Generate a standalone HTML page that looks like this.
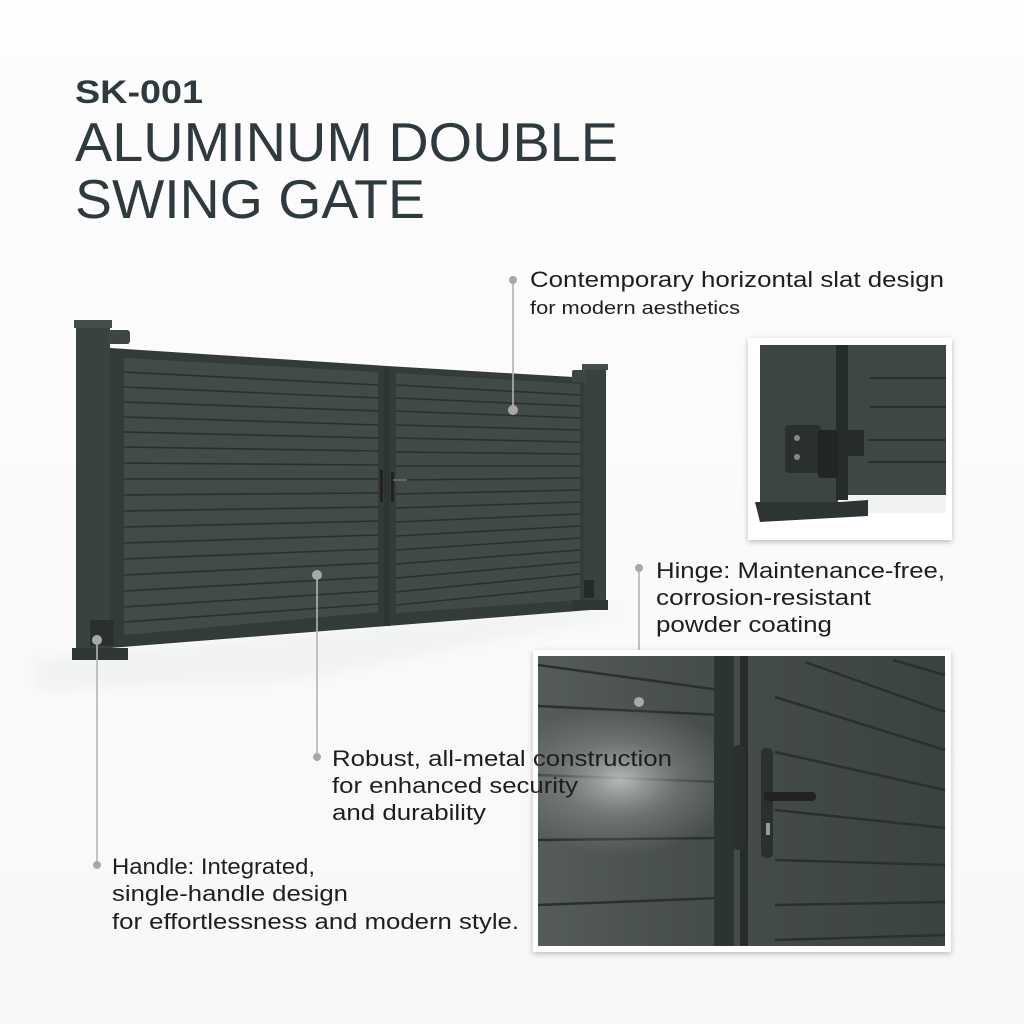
<!DOCTYPE html>
<html><head><meta charset="utf-8"><style>
html,body{margin:0;padding:0;background:#fff;width:1024px;height:1024px;overflow:hidden}
svg{display:block}
text{font-family:"Liberation Sans",sans-serif}
</style></head><body>
<svg width="1024" height="1024" viewBox="0 0 1024 1024" xmlns="http://www.w3.org/2000/svg">
<defs>
<linearGradient id="bg" x1="0" y1="0" x2="0" y2="1"><stop offset="0" stop-color="#fdfdfd"/><stop offset="1" stop-color="#f8f8f8"/></linearGradient>
<linearGradient id="door" x1="0" y1="0" x2="1" y2="0"><stop offset="0" stop-color="#555c5a"/><stop offset="0.35" stop-color="#474e4d"/><stop offset="1" stop-color="#3b4242"/></linearGradient>
<radialGradient id="glow" cx="0.5" cy="0.5" r="0.5"><stop offset="0" stop-color="#d8dad9" stop-opacity="0.75"/><stop offset="0.5" stop-color="#b8bcba" stop-opacity="0.3"/><stop offset="1" stop-color="#b8bcba" stop-opacity="0"/></radialGradient>
<clipPath id="dc"><rect x="538" y="656" width="407" height="290"/></clipPath>
<filter id="sh" x="-10%" y="-10%" width="120%" height="120%"><feDropShadow dx="0" dy="2" stdDeviation="3" flood-opacity="0.25"/></filter>
<filter id="bl"><feGaussianBlur stdDeviation="8"/></filter>
</defs>
<rect width="1024" height="1024" fill="url(#bg)"/>
<polygon points="30,660 130,650 600,606 630,612 300,680 40,690" fill="#f1f2f2" filter="url(#bl)"/>

<text x="75" y="103" font-size="32" font-weight="bold" fill="#2f3a3e" textLength="128" lengthAdjust="spacingAndGlyphs">SK-001</text>
<text x="75" y="161" font-size="55" fill="#2f3a3e" textLength="543" lengthAdjust="spacingAndGlyphs">ALUMINUM DOUBLE</text>
<text x="75" y="218" font-size="55" fill="#2f3a3e" textLength="350" lengthAdjust="spacingAndGlyphs">SWING GATE</text>

<g>
<rect x="76" y="324" width="34" height="336" fill="#3a4141"/>
<rect x="74" y="320" width="38" height="8" fill="#454c4c"/>
<rect x="108" y="330" width="22" height="14" rx="3" fill="#3e4545"/>
<rect x="72" y="648" width="56" height="12" fill="#303636"/>
<polygon points="110,348 387,366 387,626 110,648" fill="#333a3a"/>
<polygon points="387,366 590,378 590,610 387,626" fill="#343b3b"/>
<polygon points="124,358 378,372 378,612 124,635" fill="#424a4a"/>
<polygon points="396,373 580,384 580,600 396,613" fill="#414949"/>
<g stroke="#2a3030" stroke-width="1.6">
<line x1="124" y1="372" x2="378" y2="385"/><line x1="124" y1="387" x2="378" y2="398"/>
<line x1="124" y1="402" x2="378" y2="411"/><line x1="124" y1="417" x2="378" y2="425"/>
<line x1="124" y1="432" x2="378" y2="438"/><line x1="124" y1="447" x2="378" y2="451"/>
<line x1="124" y1="463" x2="378" y2="465"/><line x1="124" y1="479" x2="378" y2="479"/>
<line x1="124" y1="495" x2="378" y2="493"/><line x1="124" y1="511" x2="378" y2="507"/>
<line x1="124" y1="527" x2="378" y2="521"/><line x1="124" y1="543" x2="378" y2="535"/>
<line x1="124" y1="559" x2="378" y2="549"/><line x1="124" y1="575" x2="378" y2="563"/>
<line x1="124" y1="591" x2="378" y2="577"/><line x1="124" y1="607" x2="378" y2="591"/>
<line x1="124" y1="622" x2="378" y2="604"/>
<line x1="396" y1="385" x2="580" y2="395"/><line x1="396" y1="398" x2="580" y2="406"/>
<line x1="396" y1="411" x2="580" y2="418"/><line x1="396" y1="425" x2="580" y2="430"/>
<line x1="396" y1="438" x2="580" y2="442"/><line x1="396" y1="452" x2="580" y2="454"/>
<line x1="396" y1="466" x2="580" y2="466"/><line x1="396" y1="480" x2="580" y2="478"/>
<line x1="396" y1="494" x2="580" y2="490"/><line x1="396" y1="508" x2="580" y2="502"/>
<line x1="396" y1="522" x2="580" y2="514"/><line x1="396" y1="536" x2="580" y2="526"/>
<line x1="396" y1="550" x2="580" y2="538"/><line x1="396" y1="564" x2="580" y2="550"/>
<line x1="396" y1="578" x2="580" y2="562"/><line x1="396" y1="592" x2="580" y2="574"/>
<line x1="396" y1="605" x2="580" y2="587"/>
</g>
<rect x="384" y="368" width="6" height="258" fill="#2e3434"/>
<rect x="380" y="470" width="3" height="32" fill="#222"/>
<rect x="391" y="472" width="3" height="30" fill="#222"/>
<rect x="393" y="479" width="14" height="2" fill="#666"/>
<rect x="584" y="368" width="22" height="242" fill="#3a4141"/>
<rect x="582" y="364" width="26" height="6" fill="#454c4c"/>
<rect x="572" y="370" width="14" height="12" rx="2" fill="#3e4545"/>
<rect x="572" y="600" width="36" height="10" fill="#303636"/>
<rect x="584" y="580" width="10" height="18" fill="#252a2a"/>
<rect x="90" y="620" width="24" height="26" fill="#2a3030"/>
</g>

<g stroke="#b3b3b3" stroke-width="1.6">
<line x1="513" y1="280" x2="513" y2="410"/>
<line x1="639" y1="568" x2="639" y2="702"/>
<line x1="317" y1="575" x2="317" y2="757"/>
<line x1="97" y1="640" x2="97" y2="865"/>
</g>
<g fill="#a8a8a8">
<circle cx="513" cy="280" r="4"/><circle cx="513" cy="410" r="5"/>
<circle cx="639" cy="568" r="4"/>
<circle cx="317" cy="757" r="4"/><circle cx="317" cy="575" r="5"/>
<circle cx="97" cy="865" r="4"/><circle cx="97" cy="640" r="5"/>
</g>

<rect x="748" y="338" width="204" height="202" fill="#fff" filter="url(#sh)"/>
<rect x="760" y="345" width="186" height="168" fill="#f1f2f2"/>
<rect x="845" y="345" width="101" height="150" fill="#3e4646"/>
<g stroke="#2a3030" stroke-width="2"><line x1="870" y1="378" x2="946" y2="378"/><line x1="870" y1="407" x2="946" y2="407"/><line x1="868" y1="440" x2="946" y2="440"/><line x1="868" y1="462" x2="946" y2="462"/></g>
<rect x="760" y="345" width="78" height="158" fill="#3c4444"/>
<rect x="836" y="345" width="12" height="155" fill="#262b2b"/>
<polygon points="755,502 840,502 868,500 868,516 760,522" fill="#2e3434"/>
<rect x="785" y="425" width="36" height="48" rx="4" fill="#2a3030"/>
<circle cx="797" cy="438" r="3" fill="#888"/><circle cx="797" cy="457" r="3" fill="#888"/>
<rect x="818" y="430" width="20" height="48" rx="3" fill="#202525"/>
<rect x="838" y="430" width="26" height="26" fill="#262b2b"/>

<rect x="533" y="650" width="418" height="302" fill="#fff" filter="url(#sh)"/>
<rect x="538" y="656" width="407" height="290" fill="url(#door)"/>
<g stroke="#2a3030" stroke-width="2.5">
<line x1="538" y1="665" x2="720" y2="690"/>
<line x1="538" y1="706" x2="720" y2="715"/>
<line x1="538" y1="775" x2="720" y2="782"/>
<line x1="538" y1="840" x2="720" y2="838"/>
<line x1="538" y1="905" x2="720" y2="898"/>
<line x1="805" y1="662" x2="945" y2="712"/>
<line x1="893" y1="660" x2="945" y2="675"/>
<line x1="775" y1="697" x2="945" y2="750"/>
<line x1="775" y1="752" x2="945" y2="790"/>
<line x1="775" y1="810" x2="945" y2="828"/>
<line x1="775" y1="860" x2="945" y2="865"/>
<line x1="775" y1="905" x2="945" y2="902"/>
<line x1="775" y1="940" x2="945" y2="935"/>
</g>
<ellipse cx="620" cy="780" rx="120" ry="75" fill="url(#glow)" clip-path="url(#dc)"/>
<rect x="714" y="656" width="20" height="290" fill="#2c3333"/>
<rect x="740" y="656" width="8" height="290" fill="#262c2c"/>
<rect x="733" y="745" width="12" height="105" rx="5" fill="#2a3030"/>
<rect x="761" y="748" width="12" height="110" rx="5" fill="#2a3030"/>
<rect x="764" y="792" width="52" height="9" rx="4" fill="#222"/>
<rect x="766" y="823" width="4" height="12" fill="#999"/>
<circle cx="639" cy="702" r="5" fill="#a8a8a8"/>

<g fill="#1e1e1e">
<text x="530" y="287" font-size="22" textLength="414" lengthAdjust="spacingAndGlyphs">Contemporary horizontal slat design</text>
<text x="530" y="314" font-size="18" textLength="210" lengthAdjust="spacingAndGlyphs">for modern aesthetics</text>
<text x="656" y="578" font-size="22" textLength="289" lengthAdjust="spacingAndGlyphs">Hinge: Maintenance-free,</text>
<text x="656" y="605" font-size="22" textLength="215" lengthAdjust="spacingAndGlyphs">corrosion-resistant</text>
<text x="656" y="632" font-size="22" textLength="176" lengthAdjust="spacingAndGlyphs">powder coating</text>
<text x="332" y="766" font-size="22" textLength="340" lengthAdjust="spacingAndGlyphs">Robust, all-metal construction</text>
<text x="332" y="793" font-size="22" textLength="246" lengthAdjust="spacingAndGlyphs">for enhanced security</text>
<text x="332" y="820" font-size="22" textLength="154" lengthAdjust="spacingAndGlyphs">and durability</text>
<text x="112" y="874" font-size="22" textLength="203" lengthAdjust="spacingAndGlyphs">Handle: Integrated,</text>
<text x="112" y="901" font-size="22" textLength="236" lengthAdjust="spacingAndGlyphs">single-handle design</text>
<text x="112" y="929" font-size="22" textLength="407" lengthAdjust="spacingAndGlyphs">for effortlessness and modern style.</text>
</g>
</svg>
</body></html>
